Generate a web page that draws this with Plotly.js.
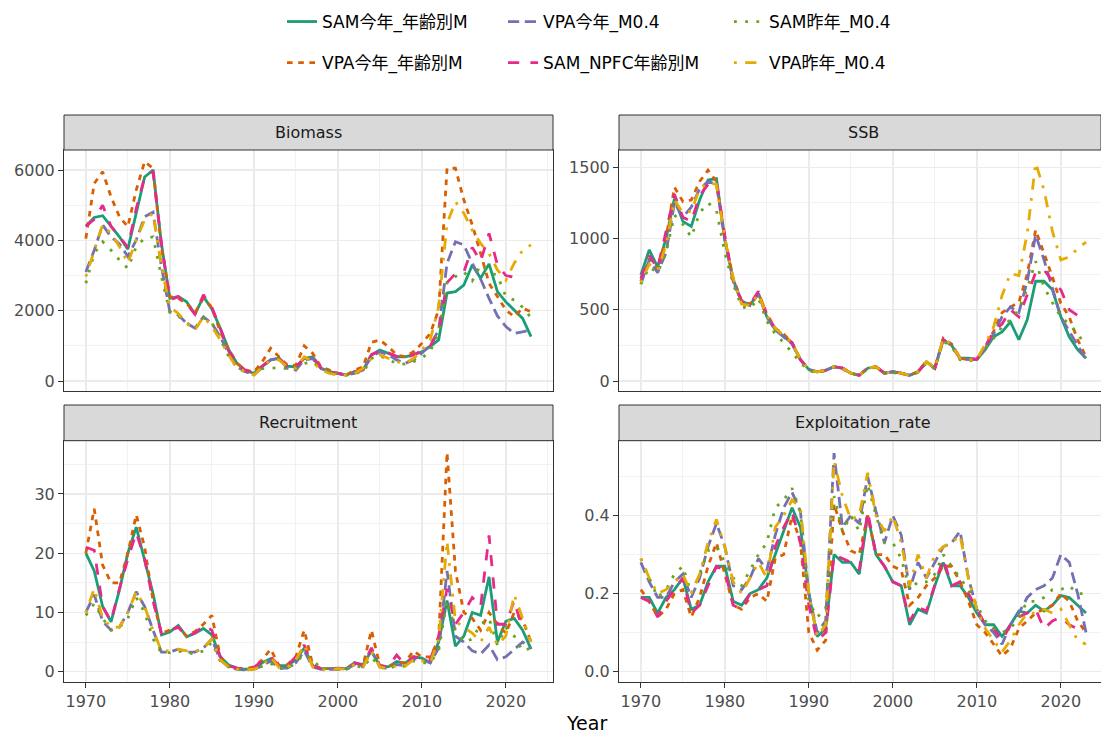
<!DOCTYPE html>
<html><head><meta charset="utf-8">
<script src="https://cdn.plot.ly/plotly-3.0.1.min.js"></script>
<style>html,body{margin:0;padding:0;background:#fff}#chart{width:1101px;height:735px}</style>
</head><body><div id="chart"></div>
<script>
const years = [1970,1971,1972,1973,1974,1975,1976,1977,1978,1979,1980,1981,1982,1983,1984,1985,1986,1987,1988,1989,1990,1991,1992,1993,1994,1995,1996,1997,1998,1999,2000,2001,2002,2003,2004,2005,2006,2007,2008,2009,2010,2011,2012,2013,2014,2015,2016,2017,2018,2019,2020,2021,2022,2023];

const seriesNames = ['SAM今年_年齢別M','VPA今年_年齢別M','VPA今年_M0.4','SAM_NPFC年齢別M','SAM昨年_M0.4','VPA昨年_M0.4'];
const panelNames = ['Biomass','SSB','Recruitment','Exploitation_rate'];

// Biomass
const bioSamNow = [4400,4650,4700,4400,4100,3750,4800,5800,6000,3900,2350,2400,2250,1900,2400,2050,1500,900,500,300,220,400,600,650,420,400,640,690,360,265,220,170,265,310,740,880,790,690,690,740,830,980,1170,2500,2540,2730,3300,2920,3330,2540,2250,2020,1780,1260];
const bioVpaNow = [4050,5620,5950,5240,4670,4390,5430,6240,6050,3800,2400,2350,2200,1950,2350,2100,1400,900,500,320,250,550,930,700,450,450,1000,790,400,310,220,170,310,400,1100,1170,980,740,690,830,1070,1350,2020,6050,6050,5150,4440,3630,2780,2400,2020,1830,2070,1970];
const bioVpaM04 = [3100,3720,4440,4100,3900,3540,4010,4670,4800,3250,1970,1880,1640,1500,1830,1640,1260,790,400,265,170,400,600,640,360,310,600,640,360,265,220,170,220,310,690,830,740,600,500,600,790,1020,1450,3350,3960,3870,3350,2900,2350,1850,1550,1350,1400,1450];
const bioNpfc = [4400,4600,5000,4400,4100,3800,4900,5800,5950,3900,2300,2400,2200,1900,2450,2100,1500,850,500,300,230,420,620,650,400,400,650,700,370,270,220,170,270,320,750,860,800,700,650,760,850,1000,1400,2800,3050,3100,3800,3400,4200,3300,3000,2950,2900,null];
const bioSamPrev = [2780,3630,3960,3720,3440,3200,3820,4060,4100,2970,1950,1850,1650,1500,1800,1650,1200,700,380,250,180,350,360,380,350,350,500,550,350,270,200,160,230,240,640,720,600,500,480,550,650,850,1350,2800,2970,3100,2850,3300,3100,3000,2400,2300,2100,1800];
const bioVpaPrev = [2970,3720,4440,4200,3820,3350,4010,4580,4770,3250,2110,1920,1640,1450,1830,1550,1170,740,360,265,170,400,600,600,400,360,690,550,310,220,170,170,220,360,640,740,640,550,500,640,880,1170,2110,4480,5100,4770,4290,3910,3630,3160,2870,3350,3720,3870];

// SSB
const ssbSamNow = [745,920,800,1000,1280,1120,1085,1270,1410,1420,990,710,560,535,615,450,360,310,265,150,80,65,75,100,90,55,40,90,100,55,65,55,40,65,135,90,290,250,160,160,150,220,310,345,415,290,430,700,700,640,450,310,220,160];
const ssbVpaNow = [700,860,780,1000,1360,1260,1270,1400,1480,1400,1000,720,560,540,620,470,370,330,270,150,80,65,75,100,90,55,40,90,100,55,65,55,40,65,140,90,300,260,160,150,150,240,350,480,520,550,750,1060,900,730,545,450,290,170];
const ssbVpaM04 = [680,850,760,900,1250,1150,1220,1350,1400,1380,990,700,550,530,610,450,360,310,260,150,80,65,75,100,90,55,40,90,100,55,65,55,40,65,130,90,290,250,160,150,150,230,330,450,520,480,700,1025,850,650,450,350,250,150];
const ssbNpfc = [720,880,790,1050,1310,1150,1120,1300,1380,1400,1020,700,560,540,630,460,370,320,270,150,80,65,75,100,90,55,40,90,100,55,65,55,40,65,135,90,290,250,160,155,155,240,350,400,500,450,600,760,780,700,640,500,460,null];
const ssbSamPrev = [680,800,760,900,1165,1100,1010,1180,1250,1200,900,680,520,510,580,420,330,270,200,130,70,60,70,100,85,55,40,85,95,55,60,50,40,60,125,85,280,240,150,140,150,230,300,380,430,500,650,840,660,550,450,400,330,250];
const ssbVpaPrev = [690,820,780,950,1270,1180,1190,1350,1390,1380,1000,720,540,530,610,460,370,320,270,150,80,65,75,100,90,55,40,90,100,55,65,55,40,65,135,90,300,255,160,150,150,260,380,600,755,740,1035,1530,1340,1050,850,870,930,975];

// Recruitment
const recSamNow = [20,17,11,8.4,13.8,20,24.4,18.8,13.2,6.2,6.7,7.8,5.9,6.5,7.3,6.2,2.5,1.1,0.6,0.4,0.5,1.5,2.2,1.0,1.0,2.0,4.0,1.0,0.5,0.5,0.6,0.5,1.5,1.2,3.5,1.0,0.8,1.7,1.4,2.5,2.3,1.5,5.0,12,4.3,6,10,9.5,16,5,8.5,9,7,3.8];
const recVpaNow = [20,27.5,18,15,15,20,26.5,21,12,6.5,7,7.5,6,6.8,8,9.5,2.5,1,0.5,0.5,0.8,2,3.8,1.0,1.2,2.5,7,1.2,0.5,0.5,0.6,0.5,1.5,1.0,7,1.0,0.8,1.5,1.5,3.5,2.5,2.5,5.5,37,17,10,9,7,10,8,6.5,10,8.7,5];
const recVpaM04 = [10,13,8.5,7,7.5,10,13.5,11,7,3.3,3.3,3.8,3.3,3.3,4,5.5,2,0.8,0.4,0.3,0.4,1.0,1.8,0.6,0.6,1.5,3.5,0.8,0.4,0.4,0.5,0.4,1.2,0.8,3.5,0.8,0.5,1.2,1.0,2.2,2.0,1.5,4.0,17,6,5,3.5,3,4.5,2,2.5,3.8,5,4];
const recNpfc = [21,20.5,11,8.5,14,19,23.5,19,12,6.5,7,7.5,6,6.5,7.8,7,2.5,1,0.6,0.5,0.7,1.8,2.5,1,1,2.5,4.5,1,0.5,0.5,0.5,0.5,1.5,1.0,4,1,0.8,2.8,1.2,2.5,2.2,2.0,6,14,8,10,12.5,11,23,8,8,12,7,null];
const recSamPrev = [9.5,11.5,9,7,7.5,9,12.5,10,5.5,3.2,3.2,3.5,3.2,3.0,3.5,5,1.8,0.8,0.4,0.3,0.4,0.9,1.4,0.5,0.5,1.5,3.0,2.0,0.5,0.5,0.5,0.4,1.0,0.7,2.5,0.7,0.5,1.0,0.9,1.8,1.5,1.5,3.5,12,7,5,5.5,8,9,4.5,7.5,6,3.5,4];
const recVpaPrev = [10,14,9,7.5,7.5,10,13.5,11,7,3.5,3.5,3.8,3.5,3.3,4,5.5,2.0,0.8,0.4,0.3,0.4,1.0,2.5,0.7,0.7,2.0,4.5,0.8,0.3,0.3,0.5,0.4,1.2,0.8,3.5,0.8,0.5,1.0,0.9,2.0,1.8,1.5,5.5,22,8.5,7.5,6.5,5,7.5,4.5,6,13,9,5];

// Exploitation rate
const erSamNow = [0.19,0.19,0.15,0.19,0.21,0.24,0.16,0.17,0.23,0.27,0.27,0.18,0.17,0.20,0.21,0.24,0.30,0.36,0.42,0.37,0.20,0.09,0.11,0.30,0.28,0.28,0.25,0.40,0.30,0.27,0.23,0.22,0.12,0.16,0.15,0.22,0.28,0.22,0.22,0.19,0.15,0.12,0.12,0.09,0.12,0.155,0.15,0.17,0.155,0.17,0.195,0.19,0.17,0.15];
const erVpaNow = [0.21,0.18,0.14,0.16,0.20,0.21,0.14,0.19,0.27,0.33,0.25,0.17,0.16,0.19,0.20,0.18,0.29,0.30,0.40,0.33,0.10,0.055,0.08,0.43,0.36,0.31,0.30,0.40,0.30,0.30,0.27,0.26,0.17,0.19,0.22,0.24,0.27,0.27,0.23,0.18,0.12,0.10,0.07,0.04,0.06,0.11,0.13,0.15,0.16,0.17,0.20,0.18,0.13,0.10];
const erVpaM04 = [0.28,0.23,0.19,0.19,0.23,0.25,0.19,0.24,0.32,0.38,0.32,0.22,0.21,0.24,0.29,0.26,0.35,0.42,0.46,0.41,0.20,0.10,0.13,0.56,0.37,0.40,0.38,0.50,0.41,0.33,0.40,0.35,0.21,0.28,0.24,0.28,0.32,0.33,0.36,0.24,0.16,0.12,0.10,0.07,0.12,0.15,0.19,0.21,0.22,0.24,0.30,0.28,0.20,0.10];
const erNpfc = [0.19,0.18,0.14,0.18,0.21,0.24,0.15,0.17,0.22,0.27,0.26,0.17,0.16,0.20,0.21,0.22,0.32,0.37,0.41,0.33,0.17,0.08,0.10,0.30,0.29,0.28,0.26,0.41,0.30,0.27,0.23,0.22,0.13,0.165,0.155,0.22,0.29,0.22,0.23,0.20,0.16,0.12,0.11,0.08,0.12,0.14,0.15,0.16,0.11,0.13,0.14,0.12,0.11,null];
const erSamPrev = [0.29,0.24,0.19,0.21,0.25,0.27,0.20,0.25,0.31,0.32,0.28,0.24,0.22,0.26,0.30,0.33,0.42,0.44,0.47,0.41,0.18,0.14,0.16,0.45,0.36,0.40,0.36,0.48,0.40,0.33,0.33,0.29,0.21,0.23,0.23,0.25,0.30,0.27,0.24,0.21,0.17,0.13,0.11,0.10,0.11,0.14,0.18,0.18,0.19,0.21,0.21,0.22,0.20,0.20];
const erVpaPrev = [0.29,0.24,0.20,0.21,0.23,0.25,0.20,0.25,0.33,0.39,0.32,0.23,0.20,0.24,0.28,0.24,0.37,0.40,0.44,0.42,0.20,0.09,0.12,0.54,0.45,0.39,0.40,0.51,0.40,0.36,0.40,0.33,0.22,0.30,0.24,0.30,0.32,0.33,0.35,0.24,0.16,0.11,0.08,0.05,0.08,0.12,0.15,0.15,0.16,0.15,0.16,0.12,0.08,0.07];

const panelData = [
  [bioSamNow, bioVpaNow, bioVpaM04, bioNpfc, bioSamPrev, bioVpaPrev],
  [ssbSamNow, ssbVpaNow, ssbVpaM04, ssbNpfc, ssbSamPrev, ssbVpaPrev],
  [recSamNow, recVpaNow, recVpaM04, recNpfc, recSamPrev, recVpaPrev],
  [erSamNow, erVpaNow, erVpaM04, erNpfc, erSamPrev, erVpaPrev]
];

// ---- styling ----
const W = 1101, H = 735;
const FONT = 'DejaVu Sans, Noto Sans CJK JP, sans-serif';
const colors = ['#1B9E77','#D95F02','#7570B3','#E7298A','#66A61E','#E6AB02'];
const LW = 2.8;
const dashes = ['solid','5.6px,5.6px','11.2px,5.6px','11.2px,11.2px','2.8px,8.4px','2.8px,8.4px,11.2px,8.4px'];
const legendIds = ['legend','legend2','legend3','legend4','legend5','legend6'];
const legendPx = [[282,22],[282,63],[503,22],[503,63],[729,22],[729,63]];

const px = v => v / W;
const py = v => 1 - v / H;

// panel pixel boxes [left, right, top, bottom]
const boxes = [[64,553,150,391],[619,1101,150,391],[64,553,440.7,681.7],[619,1101,440.7,681.7]];
const stripBoxes = [[115,150],[115,150],[405,440.7],[405,440.7]];
const axisIds = [['x','y'],['x2','y2'],['x3','y3'],['x4','y4']];
const yRanges = [[-284,6569],[-70,1621],[-1.7,39.0],[-0.026,0.592]];
const yDticks = [2000,500,10,0.2];
const xStart = 1967.4, pxPerYear = 8.4;

const traces = [];
panelData.forEach((series, p) => {
  series.forEach((vals, s) => {
    traces.push({
      type: 'scatter', mode: 'lines',
      x: years, y: vals,
      name: seriesNames[s],
      xaxis: axisIds[p][0], yaxis: axisIds[p][1],
      line: {color: colors[s], width: LW, dash: dashes[s]},
      connectgaps: false,
      showlegend: p === 0,
      legend: legendIds[s],
      hoverinfo: 'x+y+name'
    });
  });
});

const layout = {
  width: W, height: H,
  margin: {l:0, r:0, t:0, b:0, pad:0},
  paper_bgcolor: '#ffffff', plot_bgcolor: '#ffffff',
  font: {family: FONT, size: 16, color: '#4D4D4D'},
  shapes: [], annotations: []
};

boxes.forEach((b, p) => {
  const xk = p === 0 ? 'xaxis' : 'xaxis' + (p+1);
  const yk = p === 0 ? 'yaxis' : 'yaxis' + (p+1);
  const bottom = p >= 2;
  const widthPx = b[1] - b[0];
  layout[xk] = {
    domain: [px(b[0]), px(b[1])],
    anchor: axisIds[p][1],
    range: [xStart, xStart + widthPx / pxPerYear],
    tick0: 1970, dtick: 10,
    showticklabels: bottom,
    ticks: bottom ? 'outside' : '',
    ticklen: 5, tickwidth: 1, tickcolor: '#333333',
    tickfont: {family: FONT, size: 16, color: '#4D4D4D'},
    showgrid: true, gridcolor: '#EBEBEB', gridwidth: 1.4,
    minor: {dtick: 5, tick0: 1965, showgrid: true, gridcolor: '#EFEFEF', gridwidth: 0.8},
    zeroline: false, showline: true, mirror: true, linecolor: '#333333', linewidth: 1,
    fixedrange: true
  };
  layout[yk] = {
    domain: [py(b[3]), py(b[2])],
    anchor: axisIds[p][0],
    range: yRanges[p],
    tick0: 0, dtick: yDticks[p],
    tickformat: p === 3 ? '.1f' : 'd',
    ticks: 'outside', ticklen: 5, tickwidth: 1, tickcolor: '#333333',
    tickfont: {family: FONT, size: 16, color: '#4D4D4D'},
    showgrid: true, gridcolor: '#EBEBEB', gridwidth: 1.4,
    minor: {dtick: yDticks[p] / 2, tick0: 0, showgrid: true, gridcolor: '#EFEFEF', gridwidth: 0.8},
    zeroline: false, showline: true, mirror: true, linecolor: '#333333', linewidth: 1,
    fixedrange: true
  };
  const sb = stripBoxes[p];
  layout.shapes.push({
    type: 'rect', xref: 'paper', yref: 'paper',
    x0: px(b[0]), x1: px(b[1]), y0: py(sb[1]), y1: py(sb[0]),
    fillcolor: '#D9D9D9', line: {color: '#333333', width: 1}
  });
  layout.annotations.push({
    xref: 'paper', yref: 'paper',
    x: px(p % 2 === 0 ? (b[0]+b[1])/2 : 863), y: py((sb[0]+sb[1])/2),
    xanchor: 'center', yanchor: 'middle', showarrow: false,
    text: panelNames[p], font: {family: FONT, size: 16, color: '#1A1A1A'}
  });
});

layout.annotations.push({
  xref: 'paper', yref: 'paper', x: px(586), y: py(723),
  xanchor: 'center', yanchor: 'middle', showarrow: false,
  text: 'Year', font: {family: FONT, size: 19, color: '#000000'}
});

legendIds.forEach((id, i) => {
  layout[id] = {
    x: px(legendPx[i][0]), y: py(legendPx[i][1]),
    xanchor: 'left', yanchor: 'middle',
    orientation: 'v', bgcolor: 'rgba(0,0,0,0)', borderwidth: 0,
    font: {family: FONT, size: 17, color: '#000000'},
    itemwidth: 30
  };
});

Plotly.newPlot('chart', traces, layout, {displayModeBar: false, staticPlot: true});
</script>
</body></html>
